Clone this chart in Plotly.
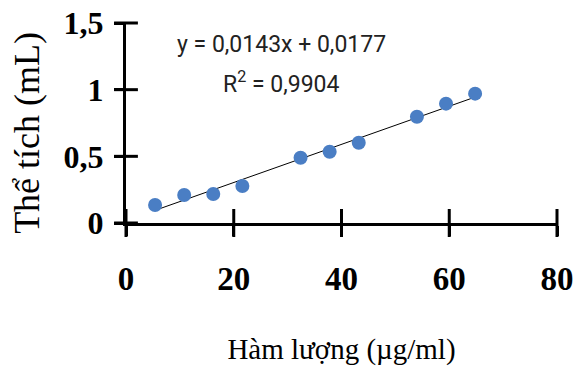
import plotly.graph_objects as go

# Data
conc = [5.4, 10.8, 16.2, 21.6, 32.4, 37.8, 43.2, 54.0, 59.4, 64.8]      # µg/ml
vol = [0.135, 0.21, 0.218, 0.278, 0.489, 0.534, 0.602, 0.797, 0.895, 0.97]  # mL

slope = 0.0143
intercept = 0.0177
r2 = 0.9904

x_tick_vals = [0, 20, 40, 60, 80]
x_tick_text = ["0", "20", "40", "60", "80"]
y_tick_vals = [0, 0.5, 1, 1.5]
y_tick_text = ["0", "0,5", "1", "1,5"]

trend_x = [min(conc), max(conc)]
trend_y = [slope * v + intercept for v in trend_x]


def comma(v):
    return f"{v}".replace(".", ",")


fig = go.Figure()
fig.add_trace(go.Scatter(x=trend_x, y=trend_y, mode="lines",
                         line=dict(color="black", width=1), hoverinfo="skip",
                         showlegend=False))
fig.add_trace(go.Scatter(x=conc, y=vol, mode="markers",
                         marker=dict(color="#4a7ec4", size=14), showlegend=False))
# crossing tick marks (drawn as line markers at the tick positions on each axis)
fig.add_trace(go.Scatter(x=x_tick_vals, y=[y_tick_vals[0]] * len(x_tick_vals),
                         mode="markers", cliponaxis=False, hoverinfo="skip",
                         showlegend=False,
                         marker=dict(symbol="line-ns", size=20,
                                     line=dict(color="black", width=3))))
fig.add_trace(go.Scatter(x=[x_tick_vals[0]] * len(y_tick_vals), y=y_tick_vals,
                         mode="markers", cliponaxis=False, hoverinfo="skip",
                         showlegend=False,
                         marker=dict(symbol="line-ew", size=17,
                                     line=dict(color="black", width=3))))

fig.update_layout(
    width=588, height=375,
    margin=dict(l=126, r=31, t=23, b=152),
    paper_bgcolor="white", plot_bgcolor="white",
    xaxis=dict(range=[0, 80], tickvals=x_tick_vals, ticktext=x_tick_text,
               automargin=False, ticklabeloverflow="allow",
               showgrid=False, zeroline=False, showline=True, linecolor="black",
               linewidth=3, ticks="outside", ticklen=10, tickwidth=3, tickcolor="black",
               tickfont=dict(family="Liberation Serif", size=33, color="black", weight="bold"),
               ticklabelstandoff=14,
               title=dict(text="Hàm lượng (µg/ml)", standoff=44,
                          font=dict(family="Liberation Serif", size=29, color="black"))),
    yaxis=dict(range=[0, 1.5], tickvals=y_tick_vals, ticktext=y_tick_text,
               automargin=False, ticklabeloverflow="allow",
               showgrid=False, zeroline=False, showline=True, linecolor="black",
               linewidth=3, ticks="outside", ticklen=9, tickwidth=3, tickcolor="black",
               tickfont=dict(family="Liberation Serif", size=32, color="black", weight="bold"),
               ticklabelstandoff=4),
    annotations=[
        dict(x=-0.23, y=0.45, xref="paper", yref="paper", showarrow=False,
             textangle=-90, xanchor="center", yanchor="middle",
             text="Thể tích (mL)",
             font=dict(family="Liberation Serif", size=36, color="black")),
        dict(x=28.8, y=1.34, xref="x", yref="y", showarrow=False,
             text=f"y = {comma(slope)}x + {comma(intercept)}",
             font=dict(family="Roboto", size=23, color="#222222")),
        dict(x=28.8, y=1.056, xref="x", yref="y", showarrow=False,
             text=f"R<sup>2</sup> = {comma(r2)}",
             font=dict(family="Roboto", size=23, color="#222222")),
    ],
)

# remove the default page margin so the figure fills the window exactly
fig.write_html("out.html",
               config={"displayModeBar": False},
               post_script="document.body.style.margin='0';document.body.style.overflow='hidden';")
